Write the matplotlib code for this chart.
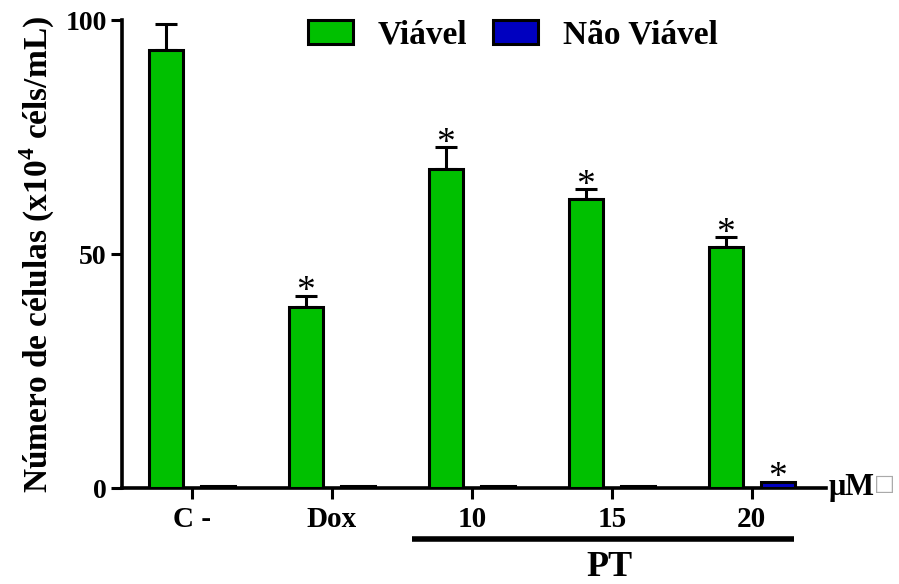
import numpy as np
import matplotlib
matplotlib.use('Agg')
import matplotlib.pyplot as plt

plt.rcParams['font.family'] = ['Liberation Serif', 'DejaVu Sans']
plt.rcParams['font.weight'] = 'bold'
plt.rcParams['mathtext.fontset'] = 'custom'
plt.rcParams['mathtext.rm'] = 'Liberation Serif:bold'
plt.rcParams['mathtext.bf'] = 'Liberation Serif:bold'

# data
groups = ['C -', 'Dox', '10', '15', '20']
viavel = [93.6, 38.6, 68.2, 61.8, 51.6]
viavel_err = [5.5, 2.5, 4.6, 2.0, 2.0]
nao_viavel = [0.5, 0.5, 0.5, 0.4, 1.2]
nao_viavel_err = [0.0, 0.0, 0.0, 0.0, 0.3]
star_viavel = [False, True, True, True, True]
star_nao = [False, False, False, False, True]

green = '#00C000'
blue = '#0000C0'

fig = plt.figure(figsize=(8.99, 5.84), dpi=100)
ax = fig.add_axes([122/899, 1 - 488/584, (826-122)/899, (488-20)/584])

x = np.arange(len(groups))
off = 0.186
w = 0.245

ax.bar(x - off, viavel, w, color=green, edgecolor='black', linewidth=2.2,
       label='Viável', zorder=3)
ax.errorbar(x - off, viavel, yerr=[np.zeros(len(x)), viavel_err], fmt='none',
            ecolor='black', elinewidth=2.2, capsize=8, capthick=2.2, zorder=2)
ax.bar(x + off, nao_viavel, w, color=blue, edgecolor='black', linewidth=2.2,
       label='Não Viável', zorder=3)

for i in range(len(x)):
    if star_viavel[i]:
        ax.annotate('*', (x[i] - off, viavel[i] + viavel_err[i]),
                    xytext=(0, -4), textcoords='offset points', ha='center',
                    va='baseline', fontsize=27, fontweight='normal')
    if star_nao[i]:
        ax.annotate('*', (x[i] + off, nao_viavel[i] + nao_viavel_err[i]),
                    xytext=(0, -4), textcoords='offset points', ha='center',
                    va='baseline', fontsize=27, fontweight='normal',
                    annotation_clip=False)

ax.set_xlim(-0.5, 4.53)
ax.set_ylim(0, 100)
ax.set_yticks([0, 50, 100])
ax.set_xticks(x)
ax.set_xticklabels(groups, fontsize=21)
ax.tick_params(axis='both', width=2.2, length=8, pad=5)
ax.tick_params(axis='y', labelsize=20, pad=3)
for s in ['top', 'right']:
    ax.spines[s].set_visible(False)
for s in ['left', 'bottom']:
    ax.spines[s].set_linewidth(2.6)

ax.set_ylabel('Número de células (x10$^{4}$ céls/mL)', fontsize=24,
              fontweight='bold', labelpad=6)

ax.legend(loc='upper center', bbox_to_anchor=(0.555, 1.065), ncol=2,
          frameon=False, fontsize=24, handlelength=1.35, handleheight=0.7,
          columnspacing=0.75, handletextpad=0.75)

ax.text(4.55, 0, 'μM', fontsize=22, fontweight='bold', ha='left', va='center',
        clip_on=False)
ax.text(4.875, 0.8, '□', fontsize=16, fontweight='normal', color='#aaaaaa',
        ha='left', va='center', family='DejaVu Sans', clip_on=False)

# PT group bracket
ax.plot([1.57, 4.30], [-10.8, -10.8], color='black', linewidth=4,
        clip_on=False, solid_capstyle='butt')
ax.text(2.98, -17.0, 'PT', fontsize=26, fontweight='bold', ha='center',
        va='center', clip_on=False)

fig.savefig('out.png', dpi=100)
